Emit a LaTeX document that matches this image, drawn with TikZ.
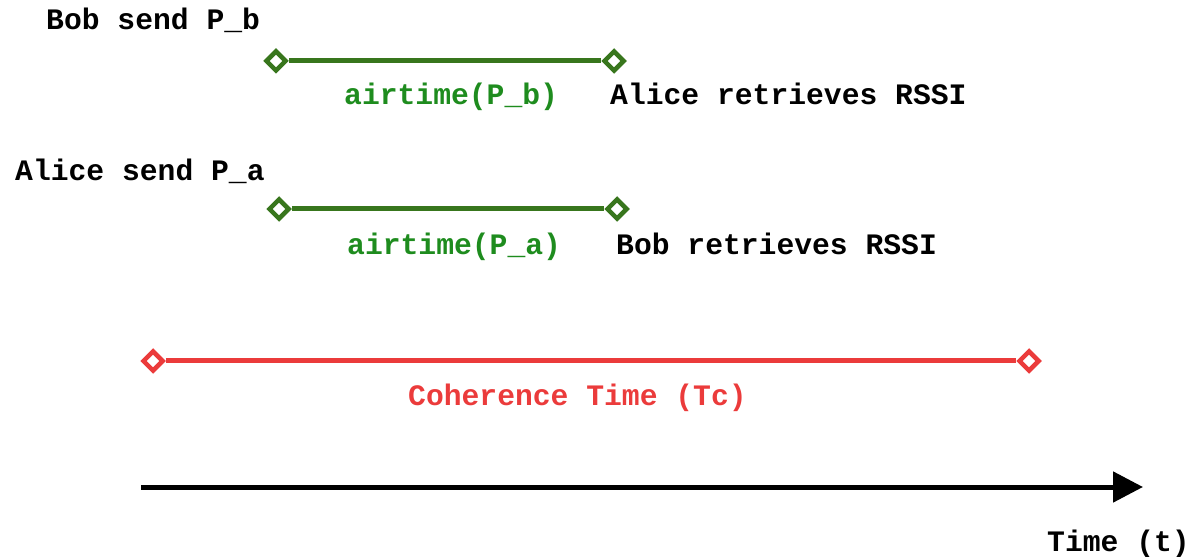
\documentclass[tikz,border=0pt]{standalone}
\usepackage{fontspec}
\setmonofont{Liberation Mono}
\usetikzlibrary{shapes.geometric,arrows.meta}
\definecolor{spanGreen}{HTML}{38761D}
\definecolor{labelGreen}{HTML}{1E8C1E}
\definecolor{tcRed}{HTML}{EB3B3B}
\tikzset{
  x=1bp, y=-1bp,
  lbl/.style={anchor=base west, inner sep=0pt, font=\fontsize{29.8}{31}\selectfont\ttfamily\bfseries},
  endmark/.style={diamond, draw=#1, fill=white, line width=4.5bp, inner sep=0pt, minimum size=21bp},
  span/.style={draw=#1, line width=5bp},
}
\begin{document}
\begin{tikzpicture}
\useasboundingbox (0,0) rectangle (1201,557);

% packet sent by Bob
\node[lbl] (bobsend) at (46,30) {Bob send P\_b};
\node[endmark=spanGreen] (b1) at (276,61) {};
\node[endmark=spanGreen] (b2) at (614,61) {};
\draw[span=spanGreen] (b1) -- (b2);
\node[lbl, text=labelGreen] (airb) at (344,105) {airtime(P\_b)};
\node[lbl] (aliceret) at (610,105) {Alice retrieves RSSI};

% packet sent by Alice
\node[lbl] (alicesend) at (15,181) {Alice send P\_a};
\node[endmark=spanGreen] (a1) at (279,209) {};
\node[endmark=spanGreen] (a2) at (617,209) {};
\draw[span=spanGreen] (a1) -- (a2);
\node[lbl, text=labelGreen] (aira) at (347,255) {airtime(P\_a)};
\node[lbl] (bobret) at (616,255) {Bob retrieves RSSI};

% coherence time window
\node[endmark=tcRed] (c1) at (153,361) {};
\node[endmark=tcRed] (c2) at (1029,361) {};
\draw[span=tcRed] (c1) -- (c2);
\node[lbl, text=tcRed] (coh) at (408,405) {Coherence Time (Tc)};

% time axis
\coordinate (t0) at (141,487);
\coordinate (t1) at (1143,487);
\draw[line width=5bp, -{Triangle[length=30bp, width=30bp]}] (t0) -- (t1);
\node[lbl] (timelbl) at (1047,551) {Time (t)};
\end{tikzpicture}
\end{document}
